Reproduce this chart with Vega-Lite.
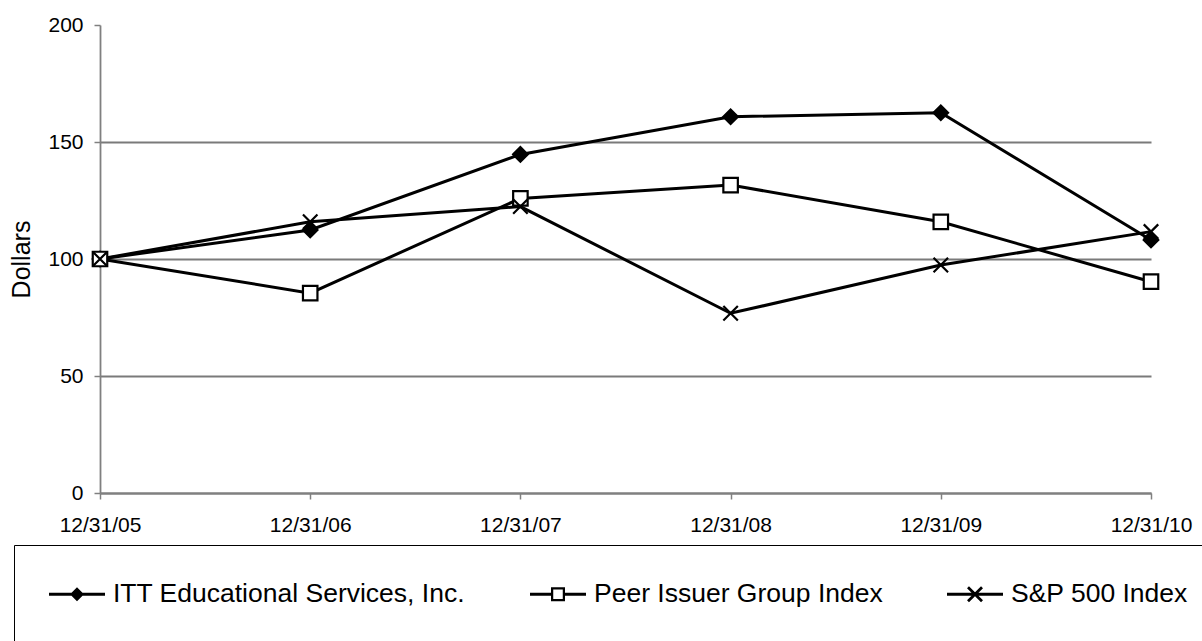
{
  "$schema": "https://vega.github.io/schema/vega-lite/v6.json",
  "width": 1051,
  "height": 468,
  "autosize": {"type": "none"},
  "padding": {"left": 100, "top": 25, "right": 51, "bottom": 148},
  "background": "white",
  "config": {"view": {"stroke": null}, "font": "Liberation Sans"},
  "data": {
    "values": [
      {"date": "12/31/05", "series": "ITT Educational Services, Inc.", "value": 100},
      {"date": "12/31/06", "series": "ITT Educational Services, Inc.", "value": 112.4},
      {"date": "12/31/07", "series": "ITT Educational Services, Inc.", "value": 144.7},
      {"date": "12/31/08", "series": "ITT Educational Services, Inc.", "value": 160.8},
      {"date": "12/31/09", "series": "ITT Educational Services, Inc.", "value": 162.5},
      {"date": "12/31/10", "series": "ITT Educational Services, Inc.", "value": 108.1},
      {"date": "12/31/05", "series": "Peer Issuer Group Index", "value": 100},
      {"date": "12/31/06", "series": "Peer Issuer Group Index", "value": 85.4},
      {"date": "12/31/07", "series": "Peer Issuer Group Index", "value": 125.9},
      {"date": "12/31/08", "series": "Peer Issuer Group Index", "value": 131.6},
      {"date": "12/31/09", "series": "Peer Issuer Group Index", "value": 115.9},
      {"date": "12/31/10", "series": "Peer Issuer Group Index", "value": 90.3},
      {"date": "12/31/05", "series": "S&P 500 Index", "value": 100},
      {"date": "12/31/06", "series": "S&P 500 Index", "value": 115.9},
      {"date": "12/31/07", "series": "S&P 500 Index", "value": 122.4},
      {"date": "12/31/08", "series": "S&P 500 Index", "value": 76.8},
      {"date": "12/31/09", "series": "S&P 500 Index", "value": 97.4},
      {"date": "12/31/10", "series": "S&P 500 Index", "value": 111.7}
    ]
  },
  "encoding": {
    "x": {
      "field": "date",
      "type": "ordinal",
      "sort": null,
      "scale": {"type": "point", "padding": 0},
      "axis": {
        "title": null,
        "labelAngle": 0,
        "labelFontSize": 21,
        "labelFont": "Liberation Sans",
        "labelColor": "black",
        "labelPadding": 15,
        "tickSize": 6,
        "tickColor": "#808080",
        "tickWidth": 1.5,
        "domainColor": "#808080",
        "domainWidth": 1.8,
        "grid": false
      }
    },
    "y": {
      "field": "value",
      "type": "quantitative",
      "scale": {"domain": [0, 200], "nice": false},
      "axis": {
        "values": [0, 50, 100, 150, 200],
        "title": "Dollars",
        "titleFontSize": 25,
        "titleFontWeight": "normal",
        "titleFont": "Liberation Sans",
        "titleColor": "black",
        "titlePadding": 13,
        "labelFontSize": 21,
        "labelFont": "Liberation Sans",
        "labelColor": "black",
        "labelPadding": 11,
        "tickSize": 6,
        "tickColor": "#808080",
        "tickWidth": 1.5,
        "domainColor": "#808080",
        "domainWidth": 1.8,
        "grid": true,
        "gridColor": {"condition": {"test": "datum.value === 200", "value": "transparent"}, "value": "#7a7a7a"},
        "gridWidth": 1.8
      }
    }
  },
  "layer": [
    {
      "mark": {"type": "line", "stroke": "black", "strokeWidth": 3},
      "encoding": {"detail": {"field": "series"}}
    },
    {
      "mark": {"type": "point", "stroke": "black", "strokeWidth": 2.2, "size": 210, "opacity": 1},
      "encoding": {
        "shape": {
          "field": "series",
          "type": "nominal",
          "scale": {
            "domain": ["ITT Educational Services, Inc.", "Peer Issuer Group Index", "S&P 500 Index"],
            "range": ["diamond", "square", "M-1,-1L1,1M-1,1L1,-1"]
          },
          "legend": null
        },
        "fill": {
          "field": "series",
          "type": "nominal",
          "scale": {
            "domain": ["ITT Educational Services, Inc.", "Peer Issuer Group Index", "S&P 500 Index"],
            "range": ["black", "white", "transparent"]
          },
          "legend": null
        }
      }
    },
    {
      "mark": {"type": "point", "filled": true, "color": "black", "size": 0, "opacity": 1, "strokeWidth": 0},
      "encoding": {
        "shape": {
          "field": "series",
          "type": "nominal",
          "scale": {
            "domain": ["ITT Educational Services, Inc.", "Peer Issuer Group Index", "S&P 500 Index"],
            "range": [
              "M-1,-0.1H3V0.1H-1ZM1,-0.5L1.5,0L1,0.5L0.5,0Z",
              "M-1,-0.1H0.5V0.1H-1ZM1.5,-0.1H3V0.1H1.5ZM0.5,-0.5H1.5V0.5H0.5ZM0.66,-0.34V0.34H1.34V-0.34Z",
              "M-1,-0.1H3V0.1H-1ZM0.57,-0.57L1.57,0.43L1.43,0.57L0.43,-0.43ZM0.43,0.43L1.43,-0.57L1.57,-0.43L0.57,0.57Z"
            ]
          },
          "legend": {
            "title": null,
            "orient": "none",
            "legendX": -86,
            "legendY": 520,
            "direction": "horizontal",
            "padding": 35,
            "strokeColor": "black",
            "fillColor": "white",
            "cornerRadius": 0,
            "symbolSize": 784,
            "symbolStrokeWidth": 0,
            "symbolFillColor": "black",
            "symbolOpacity": 1,
            "symbolOffset": 0,
            "labelFontSize": 26.5,
            "labelFont": "Liberation Sans",
            "labelColor": "black",
            "labelLimit": 700,
            "labelOffset": 36,
            "columnPadding": 64,
            "encode": {"legend": {"strokeWidth": {"value": 2.5}}}
          }
        }
      }
    }
  ],
  "resolve": {"scale": {"shape": "independent", "fill": "independent"}}
}
